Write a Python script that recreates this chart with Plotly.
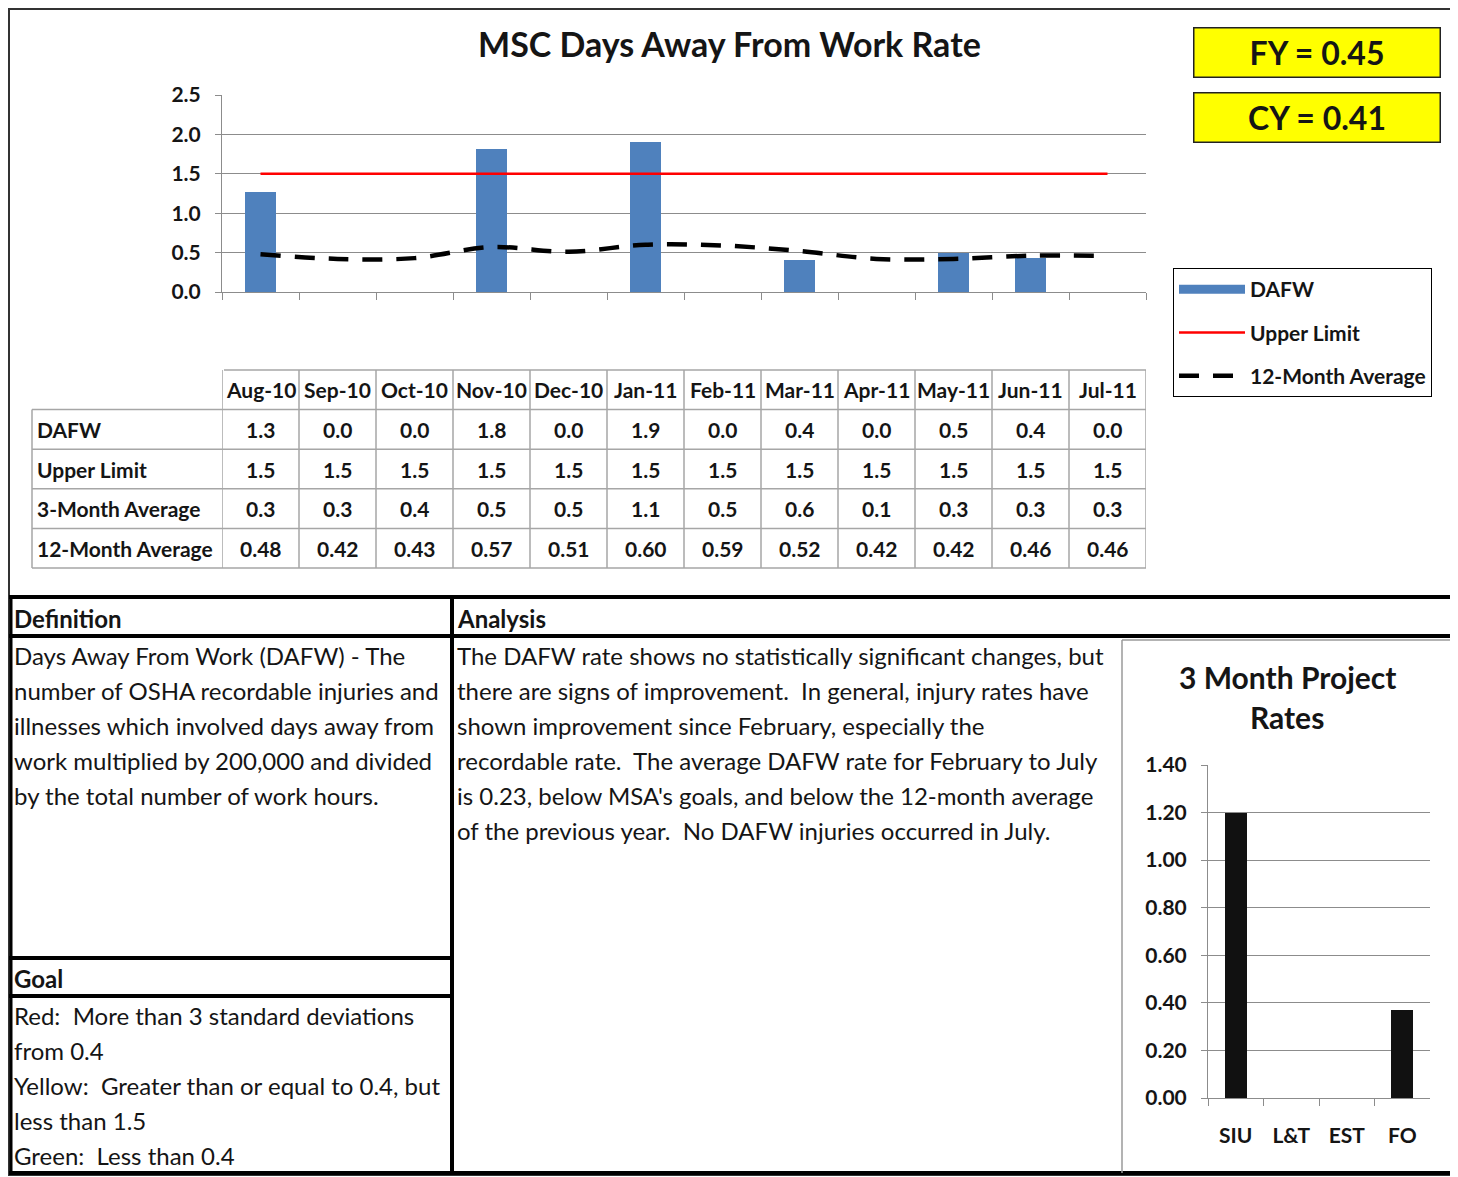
import plotly.graph_objects as go

W, H = 1458, 1177
# the page puts the plot 8px in from the top-left corner; positions below are
# read off the reference image and shifted back by that amount
OX, OY = 8, 8
FONT = "Lato"


def px(x):
    return (x - OX) / W


def py(y):
    return 1 - (y - OY) / H


# data
months = ['Aug-10', 'Sep-10', 'Oct-10', 'Nov-10', 'Dec-10', 'Jan-11',
          'Feb-11', 'Mar-11', 'Apr-11', 'May-11', 'Jun-11', 'Jul-11']
dafw = [1.27, 0.0, 0.0, 1.81, 0.0, 1.90, 0.0, 0.41, 0.0, 0.50, 0.43, 0.0]
upper_limit = [1.5, 1.5, 1.5, 1.5, 1.5, 1.5, 1.5, 1.5, 1.5, 1.5, 1.5, 1.5]
three_month_avg = [0.3, 0.3, 0.4, 0.5, 0.5, 1.1, 0.5, 0.6, 0.1, 0.3, 0.3, 0.3]
twelve_month_avg = [0.48, 0.42, 0.43, 0.57, 0.51, 0.60, 0.59, 0.52, 0.42, 0.42, 0.46, 0.46]

projects = ['SIU', 'L&T', 'EST', 'FO']
project_rates = [1.20, 0.0, 0.0, 0.37]

fy_rate = 0.45
cy_rate = 0.41

definition_lines = [
    "Days Away From Work (DAFW) - The",
    "number of OSHA recordable injuries and",
    "illnesses which involved days away from",
    "work multiplied by 200,000 and divided",
    "by the total number of work hours.",
]
analysis_lines = [
    "The DAFW rate shows no statistically significant changes, but",
    "there are signs of improvement.\u00a0 In general, injury rates have",
    "shown improvement since February, especially the",
    "recordable rate.\u00a0 The average DAFW rate for February to July",
    "is 0.23, below MSA's goals, and below the 12-month average",
    "of the previous year.\u00a0 No DAFW injuries occurred in July.",
]
goal_lines = [
    "Red:\u00a0 More than 3 standard deviations",
    "from 0.4",
    "Yellow:\u00a0 Greater than or equal to 0.4, but",
    "less than 1.5",
    "Green:\u00a0 Less than 0.4",
]

table_rows = [
    ("DAFW", dafw, "{:.1f}"),
    ("Upper Limit", upper_limit, "{:.1f}"),
    ("3-Month Average", three_month_avg, "{:.1f}"),
    ("12-Month Average", twelve_month_avg, "{:.2f}"),
]

GRID = '#8c8c8c'
TXT = '#151515'
BLUE = '#4F81BD'
SMALL = 21   # bold labels in table, legend and ticks
BODY = 24    # text in the lower panels

fig = go.Figure()

fig.add_trace(go.Bar(x=months, y=dafw, name='DAFW', width=0.4,
                     marker=dict(color=BLUE, line=dict(width=0)), showlegend=False))
# legend entry drawn as a wide block, like the spreadsheet legend
fig.add_trace(go.Scatter(x=[months[0]], y=[None], name='DAFW', mode='lines',
                         line=dict(color=BLUE, width=9), legendgroup='a'))
fig.add_trace(go.Scatter(x=months, y=upper_limit, name='Upper Limit', mode='lines',
                         line=dict(color='#FF0000', width=2.5), legendgroup='b'))
fig.add_trace(go.Scatter(x=months, y=twelve_month_avg, name='12-Month Average', mode='lines',
                         line=dict(color='black', width=4.5, dash='20px,14px', shape='spline'),
                         legendgroup='c'))

# inset chart
fig.add_trace(go.Bar(x=projects, y=project_rates, xaxis='x2', yaxis='y2', width=0.4,
                     marker=dict(color='#111111', line=dict(width=0)), showlegend=False))

tick_font = dict(family=FONT, size=SMALL, color=TXT, weight='bold')

fig.update_layout(
    width=W, height=H, autosize=False,
    margin=dict(l=0, r=0, t=0, b=0, pad=0, autoexpand=False),
    paper_bgcolor='white', plot_bgcolor='white',
    font=dict(family=FONT, color=TXT),
    bargap=0,
    xaxis=dict(domain=[px(222), px(1146)], type='category', categoryorder='array',
               categoryarray=months, range=[-0.5, 11.5], showgrid=False,
               showline=True, linecolor=GRID, linewidth=1, ticks='outside',
               tickson='boundaries', ticklen=7, tickcolor=GRID, showticklabels=False,
               fixedrange=True, anchor='y'),
    yaxis=dict(domain=[py(292), py(95)], range=[0, 2.5], dtick=0.5, tickformat='.1f',
               showgrid=True, gridcolor=GRID, gridwidth=1, showline=True, linecolor=GRID,
               ticks='outside', ticklen=6, tickcolor=GRID, zeroline=False,
               tickfont=tick_font, ticklabelstandoff=10, fixedrange=True, anchor='x'),
    xaxis2=dict(domain=[px(1208), px(1430)], type='category', range=[-0.5, 3.5],
                showgrid=False, showline=True, linecolor=GRID, ticks='outside',
                tickson='boundaries', ticklen=7, tickcolor=GRID, tickfont=tick_font,
                ticklabelstandoff=19, fixedrange=True, anchor='y2'),
    yaxis2=dict(domain=[py(1098), py(765)], range=[0, 1.4], dtick=0.2, tickformat='.2f',
                showgrid=True, gridcolor=GRID, showline=True, linecolor=GRID,
                ticks='outside', ticklen=6, tickcolor=GRID, zeroline=False,
                tickfont=tick_font, ticklabelstandoff=10, fixedrange=True, anchor='x2'),
    legend=dict(x=px(1173), y=py(268), xanchor='left', yanchor='top',
                bordercolor='black', borderwidth=1, bgcolor='white',
                font=dict(family=FONT, size=SMALL, color=TXT, weight='bold'),
                itemwidth=66, traceorder='grouped', tracegroupgap=13),
    showlegend=True,
)

shapes = []
annotations = []


def text(x, y, s, size=BODY, bold=False, xanchor='left', xref='paper', yref='paper', **kw):
    annotations.append(dict(x=x, y=y, xref=xref, yref=yref, text=s, showarrow=False,
                            xanchor=xanchor, yanchor='middle',
                            font=dict(family=FONT, size=size, color=TXT,
                                      weight='bold' if bold else 'normal'), **kw))


def hline(y, x0, x1, color, width):
    shapes.append(dict(type='line', xref='paper', yref='paper', x0=px(x0), x1=px(x1),
                       y0=py(y), y1=py(y), line=dict(color=color, width=width)))


def vline(x, y0, y1, color, width):
    shapes.append(dict(type='line', xref='paper', yref='paper', x0=px(x), x1=px(x),
                       y0=py(y0), y1=py(y1), line=dict(color=color, width=width)))


# title and summary boxes
text(px(729), py(44), "MSC Days Away From Work Rate", size=34, bold=True, xanchor='center')
for i, (lab, val) in enumerate([("FY", fy_rate), ("CY", cy_rate)]):
    annotations.append(dict(x=px(1316.5), y=py(52 + 65.5 * i), xref='paper', yref='paper',
                            xanchor='center', yanchor='middle',
                            text=f"<b>{lab} = {val:.2f}</b>", showarrow=False,
                            width=245, height=48, bgcolor='#FFFF00', bordercolor='#222',
                            borderwidth=1.5, borderpad=0, valign='middle',
                            font=dict(family=FONT, size=32, color=TXT)))

# data table below the chart; month columns share the chart's x axis
row_top, row_h = 370, 39.6
tcol = '#a6a6a6'
for i, m in enumerate(months):
    text(m, py(row_top + row_h / 2), m, size=SMALL, bold=True, xanchor='center', xref='x')
for r, (label, vals, fmt) in enumerate(table_rows):
    yc = py(row_top + row_h * (r + 1.5))
    text(px(35), yc, label, size=SMALL, bold=True)
    for m, v in zip(months, vals):
        text(m, yc, fmt.format(v), size=SMALL, bold=True, xanchor='center', xref='x')
for r in range(6):
    y = row_top + row_h * r
    hline(y, 224 if r == 0 else 32, 1146, tcol, 1.5)
for k in range(13):
    shapes.append(dict(type='line', xref='x', yref='paper', x0=k - 0.5, x1=k - 0.5,
                       y0=py(row_top), y1=py(row_top + 5 * row_h),
                       line=dict(color=tcol, width=1.5)))
vline(32, row_top + row_h, row_top + 5 * row_h, tcol, 1.5)

# outer frame
shapes.append(dict(type='rect', xref='paper', yref='paper', x0=px(9), x1=px(1456),
                   y0=py(1175), y1=py(9), line=dict(color='#333', width=2)))

# lower panels
hline(597, 9, 1456, 'black', 4)
hline(636, 9, 1456, 'black', 4)
hline(958, 9, 452, 'black', 4)
hline(996, 9, 452, 'black', 4)
hline(1173, 9, 1456, 'black', 4)
vline(11, 597, 1173, 'black', 3)
vline(452, 597, 1173, 'black', 4)
vline(1455, 597, 1173, 'black', 4)
vline(1122, 640, 1173, '#9a9a9a', 1.5)
hline(640, 1122, 1455, '#9a9a9a', 1.5)

text(px(11.5), py(618), "Definition", bold=True)
text(px(455), py(618), "Analysis", bold=True)
text(px(11.5), py(978), "Goal", bold=True)
for i, s in enumerate(definition_lines):
    text(px(11.5), py(655 + 35 * i), s)
for i, s in enumerate(analysis_lines):
    text(px(455), py(655 + 35 * i), s)
for i, s in enumerate(goal_lines):
    text(px(11.5), py(1015 + 35 * i), s)

text(px(1287), py(677), "3 Month Project", size=30, bold=True, xanchor='center')
text(px(1287), py(717), "Rates", size=30, bold=True, xanchor='center')

fig.update_layout(shapes=shapes, annotations=annotations)

fig.write_html("out.html")
